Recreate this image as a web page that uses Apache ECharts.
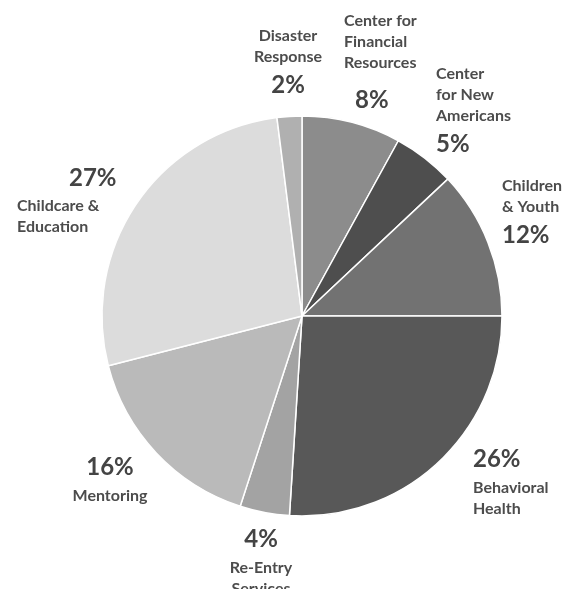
<!DOCTYPE html>
<html>
<head>
<meta charset="utf-8">
<script src="https://cdn.jsdelivr.net/npm/echarts@6/dist/echarts.min.js"></script>
<style>html,body{margin:0;padding:0;background:#fff;}#c{width:584px;height:589px;}</style>
</head>
<body>
<div id="c"></div>
<script>
const categories = ['Center for\nFinancial\nResources', 'Center\nfor New\nAmericans', 'Children\n& Youth', 'Behavioral\nHealth', 'Re-Entry\nServices', 'Mentoring', 'Childcare &\nEducation', 'Disaster\nResponse'];
const values = [8, 5, 12, 26, 4, 16, 27, 2];
const colors = ['#8c8c8c', '#4e4e4e', '#727272', '#585858', '#a3a3a3', '#bababa', '#dcdcdc', '#b0b0b0'];

// label block placement (style only)
const labelPos = [
  {x: 344, y: 10, align: 'left', pctFirst: false, pk: 'pf'},
  {x: 436, y: 63, align: 'left', pctFirst: false, pk: 'p'},
  {x: 502, y: 175, align: 'left', pctFirst: false, pk: 'p'},
  {x: 473, y: 441, align: 'left', pctFirst: true, pk: 'p'},
  {x: 261, y: 521, align: 'center', pctFirst: true, pk: 'p'},
  {x: 110, y: 449, align: 'center', pctFirst: true, pk: 'p'},
  {x: 17, y: 161, align: 'left', pctFirst: true, pk: 'pc'},
  {x: 288, y: 25, align: 'center', pctFirst: false, pk: 'p'}
];

const chart = echarts.init(document.getElementById('c'), null, {renderer: 'canvas'});
const NFONT = 'Lato, "Noto Sans", sans-serif';
const PFONT = 'Lato, "Noto Sans", sans-serif';
chart.setOption({
  backgroundColor: '#fff',
  animation: false,
  series: [{
    type: 'pie',
    center: [302, 316],
    radius: 200,
    startAngle: 90,
    clockwise: true,
    avoidLabelOverlap: false,
    data: categories.map((n, i) => ({name: n, value: values[i], itemStyle: {color: colors[i]}})),
    itemStyle: {borderColor: '#fff', borderWidth: 1.5},
    labelLine: {show: false},
    label: {
      show: true,
      position: 'outside',
      formatter: function (p) {
        const lp = labelPos[p.dataIndex];
        const names = p.name.split('\n').map(s => '{n|' + s + '}');
        const pct = '{' + lp.pk + '|' + p.value + '%}';
        return lp.pctFirst ? [pct].concat(names).join('\n') : names.concat([pct]).join('\n');
      },
      rich: {
        n: {fontFamily: NFONT, fontSize: 16, fontWeight: 'bold', color: '#4c4c4c', lineHeight: 21},
        p: {fontFamily: PFONT, fontSize: 24, fontWeight: 'bold', color: '#444', lineHeight: 36},
        pf: {fontFamily: PFONT, fontSize: 24, fontWeight: 'bold', color: '#444', lineHeight: 54, padding: [0, 0, 0, 11]},
        pc: {fontFamily: PFONT, fontSize: 24, fontWeight: 'bold', color: '#444', lineHeight: 34, padding: [0, 0, 0, 52]}
      }
    },
    labelLayout: function (params) {
      const lp = labelPos[params.dataIndex];
      return {x: lp.x, y: lp.y, align: lp.align, verticalAlign: 'top', moveOverlap: null, hideOverlap: false};
    },
    emphasis: {disabled: true}
  }]
});
</script>
</body>
</html>
